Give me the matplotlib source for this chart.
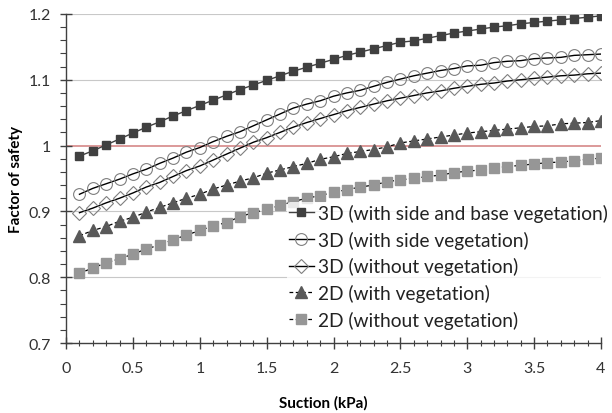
import matplotlib
matplotlib.use("Agg")
import matplotlib.pyplot as plt
from matplotlib.ticker import MultipleLocator

plt.rcParams['font.family'] = ['Lato', 'DejaVu Sans']

suction = [0.1, 0.2, 0.3, 0.4, 0.5, 0.6, 0.7, 0.8, 0.9, 1.0,
           1.1, 1.2, 1.3, 1.4, 1.5, 1.6, 1.7, 1.8, 1.9, 2.0,
           2.1, 2.2, 2.3, 2.4, 2.5, 2.6, 2.7, 2.8, 2.9, 3.0,
           3.1, 3.2, 3.3, 3.4, 3.5, 3.6, 3.7, 3.8, 3.9, 4.0]

fs_3d_side_base = [0.984, 0.992, 1.001, 1.010, 1.019, 1.028, 1.036, 1.045, 1.053, 1.061,
                   1.069, 1.077, 1.085, 1.092, 1.099, 1.106, 1.113, 1.119, 1.125, 1.131,
                   1.137, 1.142, 1.147, 1.152, 1.157, 1.159, 1.163, 1.167, 1.171, 1.174,
                   1.177, 1.180, 1.182, 1.185, 1.187, 1.189, 1.191, 1.193, 1.195, 1.197]

fs_3d_side = [0.926, 0.935, 0.942, 0.949, 0.957, 0.964, 0.973, 0.981, 0.990, 0.997,
              1.006, 1.014, 1.021, 1.030, 1.039, 1.048, 1.057, 1.063, 1.068, 1.075,
              1.080, 1.084, 1.090, 1.096, 1.101, 1.106, 1.110, 1.114, 1.117, 1.121,
              1.122, 1.126, 1.128, 1.129, 1.132, 1.133, 1.134, 1.137, 1.138, 1.139]

fs_3d_none = [0.898, 0.905, 0.913, 0.920, 0.928, 0.937, 0.944, 0.953, 0.962, 0.969,
              0.978, 0.987, 0.996, 1.005, 1.012, 1.020, 1.028, 1.035, 1.041, 1.047,
              1.053, 1.058, 1.063, 1.068, 1.072, 1.076, 1.080, 1.083, 1.087, 1.090,
              1.093, 1.095, 1.098, 1.100, 1.102, 1.104, 1.106, 1.107, 1.109, 1.110]

fs_2d_veg = [0.863, 0.871, 0.877, 0.885, 0.891, 0.899, 0.906, 0.913, 0.920, 0.926,
             0.934, 0.940, 0.946, 0.951, 0.958, 0.963, 0.968, 0.973, 0.979, 0.983,
             0.988, 0.991, 0.994, 0.998, 1.004, 1.007, 1.010, 1.013, 1.016, 1.019,
             1.021, 1.023, 1.025, 1.027, 1.029, 1.030, 1.033, 1.034, 1.035, 1.038]

fs_2d_none = [0.806, 0.814, 0.822, 0.828, 0.835, 0.843, 0.849, 0.857, 0.864, 0.871,
              0.878, 0.883, 0.892, 0.898, 0.903, 0.909, 0.915, 0.920, 0.924, 0.929,
              0.933, 0.937, 0.940, 0.945, 0.948, 0.950, 0.953, 0.955, 0.959, 0.961,
              0.963, 0.966, 0.968, 0.970, 0.972, 0.974, 0.975, 0.977, 0.979, 0.981]

labels = ['3D (with side and base vegetation)', '3D (with side vegetation)',
          '3D (without vegetation)', '2D (with vegetation)', '2D (without vegetation)']

fig = plt.figure(figsize=(6.12, 4.14), dpi=100)
ax = fig.add_axes([0.108, 0.169, 0.874, 0.795])

# grid lines, with the FS = 1 line drawn in red instead
for g in [0.8, 0.9, 1.1, 1.2]:
    ax.axhline(g, color='#c8c8c8', lw=0.8, zorder=0)
ax.plot([0, 4], [1, 1], color='#d99191', lw=1.3, zorder=1)

ax.plot(suction, fs_3d_side_base, color='#404040', lw=1, marker='s', ms=5.2,
        mfc='#404040', mec='#404040', label=labels[0], zorder=3)
ax.plot(suction, fs_3d_side, color='black', lw=1, marker='o', ms=8.5,
        mfc='none', mec='#7f7f7f', mew=0.8, label=labels[1], zorder=3)
ax.plot(suction, fs_3d_none, color='black', lw=1, marker='D', ms=6.8,
        mfc='none', mec='#7f7f7f', mew=0.8, label=labels[2], zorder=3)
ax.plot(suction, fs_2d_veg, color='black', lw=0.9, ls=(0, (3, 2)), marker='^', ms=8,
        mfc='#595959', mec='#595959', label=labels[3], zorder=3)
ax.plot(suction, fs_2d_none, color='black', lw=0.9, ls=(0, (3, 2)), marker='s', ms=7,
        mfc='#969696', mec='#969696', label=labels[4], zorder=3)

ax.set_xlim(0, 4)
ax.set_ylim(0.7, 1.2)
ax.xaxis.set_minor_locator(MultipleLocator(0.1))
ax.yaxis.set_minor_locator(MultipleLocator(0.02))
ax.set_xticks([0, 0.5, 1, 1.5, 2, 2.5, 3, 3.5, 4])
ax.set_xticklabels(['0', '0.5', '1', '1.5', '2', '2.5', '3', '3.5', '4'])
ax.set_yticks([0.7, 0.8, 0.9, 1.0, 1.1, 1.2])
ax.set_yticklabels(['0.7', '0.8', '0.9', '1', '1.1', '1.2'])

ax.tick_params(axis='x', which='major', direction='inout', length=8, width=1,
               color='#404040', labelsize=11.5, pad=9, labelcolor='#333333')
ax.tick_params(axis='x', which='minor', direction='inout', length=5, width=0.8,
               color='#404040')
ax.tick_params(axis='y', which='major', direction='inout', length=8, width=1,
               color='#404040', labelsize=11.5, pad=7, labelcolor='#333333')
ax.tick_params(axis='y', which='minor', direction='out', length=4, width=0.8,
               color='#404040')

for side in ['top', 'right']:
    ax.spines[side].set_visible(False)
for side in ['left', 'bottom']:
    ax.spines[side].set_color('#404040')
    ax.spines[side].set_linewidth(1)

ax.set_xlabel('Suction (kPa)', fontsize=11, fontweight='bold')
ax.set_ylabel('Factor of safety', fontsize=11, fontweight='bold')
ax.xaxis.set_label_coords(0.48, -0.158)
ax.yaxis.set_label_coords(-0.081, 0.5)

leg = ax.legend(loc='upper left', bbox_to_anchor=(287 / 612, 1 - 203 / 414),
                bbox_transform=fig.transFigure, frameon=True, framealpha=0.8,
                edgecolor='none', fontsize=13.8, handlelength=1.3, handletextpad=0.2,
                labelspacing=0.45, borderpad=0.1, borderaxespad=0)
for t in leg.get_texts():
    t.set_color('#222222')

fig.savefig('out.png', dpi=100)
